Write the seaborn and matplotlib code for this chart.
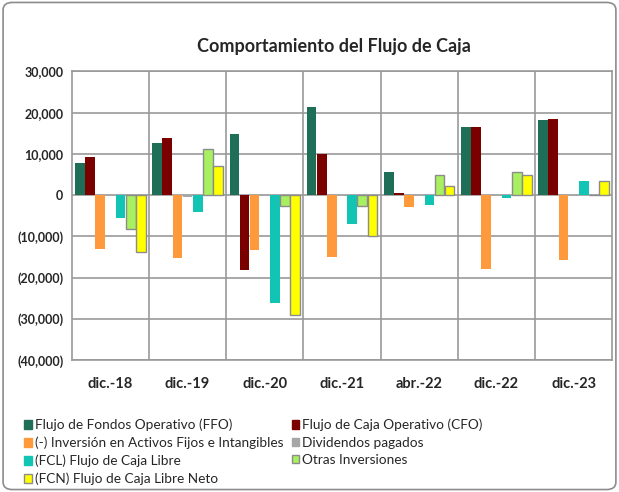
import matplotlib
matplotlib.use("Agg")
import matplotlib.pyplot as plt
from matplotlib.patches import FancyBboxPatch, Patch
from matplotlib.ticker import FuncFormatter
import seaborn as sns
import pandas as pd

periodos = ["dic.-18", "dic.-19", "dic.-20", "dic.-21", "abr.-22", "dic.-22", "dic.-23"]
series = ["Flujo de Fondos Operativo (FFO)",
          "Flujo de Caja Operativo (CFO)",
          "(-) Inversión en Activos Fijos e Intangibles",
          "Dividendos pagados",
          "(FCL) Flujo de Caja Libre",
          "Otras Inversiones",
          "(FCN) Flujo de Caja Libre Neto"]

ffo = [7800, 12700, 14700, 21300, 5500, 16500, 18200]
cfo = [9200, 13800, -18200, 10000, 600, 16400, 18400]
inversion = [-13000, -15200, -13300, -14900, -3000, -17800, -15700]
dividendos = [-300, -400, -300, -300, 0, -100, -300]
fcl = [-5600, -4100, -26200, -7000, -2500, -600, 3300]
otras = [-8300, 11100, -2600, -2600, 4800, 5700, 0]
fcn = [-13900, 7000, -29000, -9800, 2300, 4800, 3400]

colores = ["#1f6e57", "#7a0000", "#ff9a3c", "#a6a6a6", "#12c4b3", "#a8f060", "#ffff00"]
bordes = ["none", "none", "none", "none", "none", "#8c8c8c", "#8c8c8c"]

valores = [ffo, cfo, inversion, dividendos, fcl, otras, fcn]
filas = []
for s, vals in zip(series, valores):
    for p, v in zip(periodos, vals):
        filas.append({"Periodo": p, "Serie": s, "Valor": v})
df = pd.DataFrame(filas)

sns.set_style("white")
plt.rcParams["font.family"] = ["Lato", "DejaVu Sans"]

fig = plt.figure(figsize=(6.19, 4.92), dpi=100)
ax = fig.add_axes([0.116, 0.268, 0.873, 0.587])

sns.barplot(data=df, x="Periodo", y="Valor", hue="Serie", order=periodos,
            hue_order=series, palette=colores, saturation=1, width=0.92, gap=0.05,
            legend=False, ax=ax, zorder=3)

# bordes grises para las dos ultimas series
for i, cont in enumerate(ax.containers):
    for b in cont:
        if bordes[i] != "none":
            b.set_edgecolor(bordes[i])
            b.set_linewidth(1.0)
        else:
            b.set_linewidth(0)

ax.set_ylim(-40000, 30000)
ax.set_yticks(range(-40000, 30001, 10000))
ax.set_xlim(-0.5, len(periodos) - 0.5)
ax.yaxis.set_major_formatter(FuncFormatter(
    lambda v, p: f"({abs(int(v)):,})" if v < 0 else f"{int(v):,}"))
for lab in ax.get_yticklabels():
    lab.set_fontweight("bold")
    lab.set_fontsize(9)
ax.set_xticks(range(len(periodos)))
ax.set_xticklabels(periodos, fontweight="bold", fontsize=10.5)
ax.tick_params(axis="x", length=0, pad=12)
ax.tick_params(axis="y", length=0, pad=6)
ax.set_xlabel("")
ax.set_ylabel("")

ax.grid(axis="y", color="#999999", linewidth=1.2, zorder=0)
for k in range(len(periodos) - 1):
    ax.axvline(k + 0.5, color="#999999", linewidth=1.2, zorder=0)
for sp in ax.spines.values():
    sp.set_color("#999999")
    sp.set_linewidth(1.2)

fig.text(0.54, 0.905, "Comportamiento del Flujo de Caja", ha="center", va="center",
         fontsize=13, fontweight="bold")

handles = []
for c, e in zip(colores, bordes):
    handles.append(Patch(facecolor=c, edgecolor=("#8c8c8c" if e != "none" else c)))
orden = [0, 2, 4, 6, 1, 3, 5]
fig.legend([handles[i] for i in orden], [series[i] for i in orden], ncol=2,
           loc="upper left", bbox_to_anchor=(0.03, 0.16), frameon=False,
           fontsize=9.8, handlelength=0.55, handleheight=0.55, handletextpad=0.25,
           labelspacing=0.4, columnspacing=0.6, borderaxespad=0)

borde = FancyBboxPatch((0.005, 0.005), 0.99, 0.99, boxstyle="round,pad=0,rounding_size=0.015",
                       transform=fig.transFigure, facecolor="none", edgecolor="#8c8c8c",
                       linewidth=1.2)
fig.patches.append(borde)

fig.savefig("out.png", dpi=100)
